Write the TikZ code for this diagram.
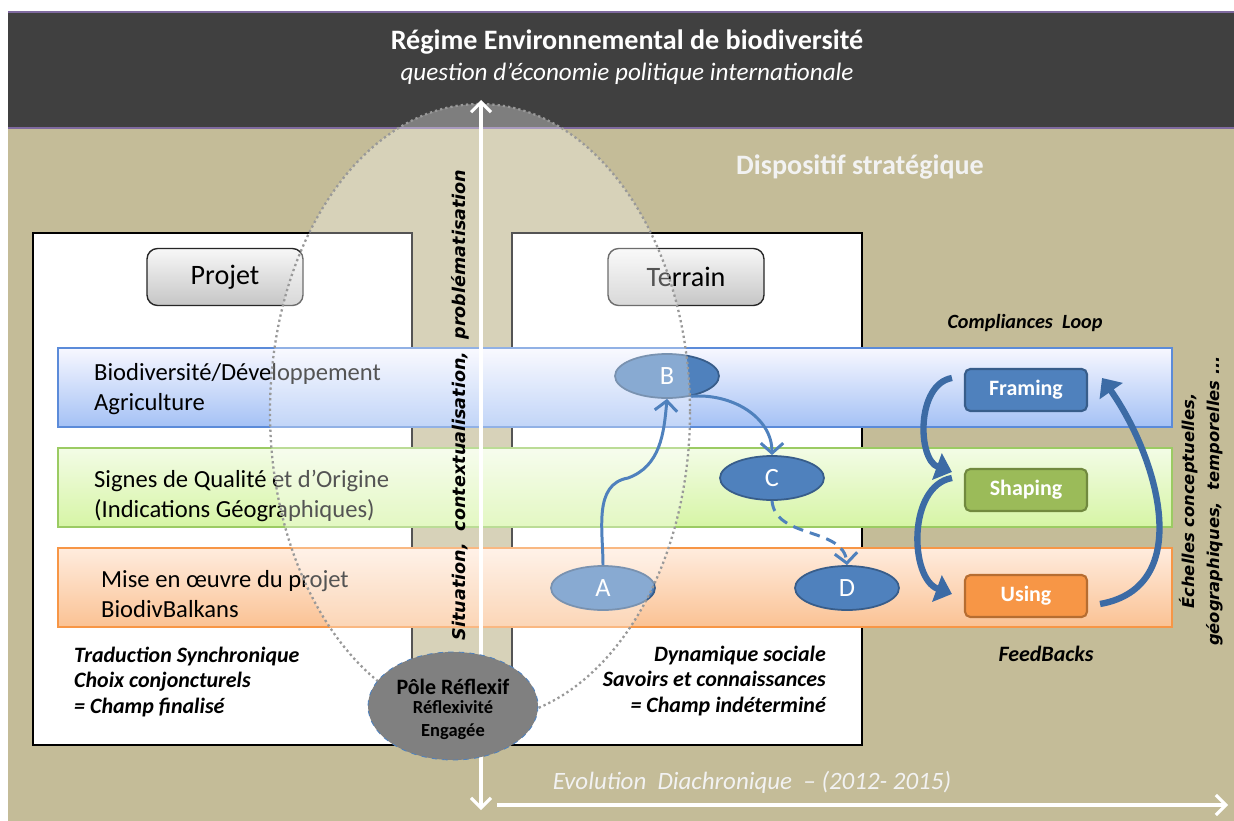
\documentclass[tikz,border=0pt]{standalone}
\usepackage{fontspec}
\setmainfont{Carlito}
\newfontfamily\verdana{DejaVu Sans}
\usetikzlibrary{arrows.meta,positioning,shapes.geometric,calc}
\definecolor{biodark}{HTML}{404040}
\definecolor{biotan}{HTML}{C4BC98}
\definecolor{bioline}{HTML}{7F6A9F}
\definecolor{biolight}{HTML}{F2F2F2}
\definecolor{nodeblue}{HTML}{4F81BD}
\definecolor{nodeblueline}{HTML}{385D8A}
\definecolor{loopblue}{HTML}{3C6BA5}
\definecolor{shapegreen}{HTML}{9BBB59}
\definecolor{shapegreenline}{HTML}{71893F}
\definecolor{usingorange}{HTML}{F79646}
\definecolor{usingline}{HTML}{B66D31}
\definecolor{bandblueline}{HTML}{5B8BD9}
\definecolor{bandgreenline}{HTML}{9BCB63}
\definecolor{bandorangeline}{HTML}{F79646}
\tikzset{
  panel/.style={draw=black, line width=1.2pt, fill=white},
  btn/.style={draw=black!85, line width=0.8pt, rounded corners=6pt, top color=gray!6, bottom color=gray!45, minimum width=3.12cm, minimum height=1.14cm, font=\fontsize{16}{18}\selectfont},
  bandtext/.style={anchor=west, align=left, font=\fontsize{14}{17}\selectfont},
  lettre/.style={ellipse, draw=nodeblueline, line width=1pt, fill=nodeblue, text=white, minimum width=2.08cm, minimum height=0.88cm, inner sep=0pt, font=\fontsize{15}{16}\selectfont},
  loopbox/.style={rounded corners=3pt, line width=1.2pt, text=white, minimum width=2.44cm, minimum height=0.84cm, font=\bfseries\fontsize{12.5}{14}\selectfont},
  arrow/.style={-{Straight Barb[length=2mm,width=4.5mm]}, line width=1.7pt, draw=nodeblue},
  looparrow/.style={-{Triangle[length=3.2mm,width=5.5mm]}, line width=3.6pt, draw=loopblue},
  note/.style={font=\bfseries\itshape\fontsize{12.5}{14.7}\selectfont}
}
\begin{document}
\begin{tikzpicture}[x=0.02cm, y=-0.02cm]
  \useasboundingbox (0,0) rectangle (1234,821);
  % fonds
  \fill[white] (0,0) rectangle (1234,821);
  \fill[biotan] (8,128) rectangle (1234,821);
  \fill[biodark] (8,12) rectangle (1234,128);
  \draw[bioline, line width=0.8pt] (8,12) -- (1234,12);
  \draw[bioline, line width=1pt] (8,128) -- (1234,128);

  \node[text=white, font=\bfseries\fontsize{16}{18}\selectfont] (regime) at (627,42) {Régime Environnemental de biodiversité};
  \node[text=white, font=\itshape\fontsize{14.3}{16}\selectfont] (question) at (627,74) {question d’économie politique internationale};
  \node[text=biolight, font=\bfseries\fontsize{16}{18}\selectfont] (dispositif) at (860,167) {Dispositif stratégique};

  % panneaux
  \draw[panel] (33,233) rectangle (412,745);
  \draw[panel] (512,233) rectangle (862,745);
  \node[btn] (projet) at (225,277) {Projet};
  \node[btn] (terrain) at (686,277) {Terrain};

  % bandes
  \draw[bandblueline, line width=0.8pt, top color=blue!3!white, bottom color={rgb,255:red,164;green,193;blue,245}] (58,348) rectangle (1172,427);
  \draw[bandgreenline, line width=0.8pt, top color={rgb,255:red,243;green,252;blue,230}, bottom color={rgb,255:red,214;green,245;blue,165}] (58,448) rectangle (1172,527);
  \draw[bandorangeline, line width=0.8pt, top color={rgb,255:red,255;green,236;blue,222}, bottom color={rgb,255:red,250;green,194;blue,148}] (58,548) rectangle (1172,627);
  \node[bandtext] (biodev) at (88,389) {Biodiversité/Développement\\Agriculture};
  \node[bandtext] (signes) at (88,496) {Signes de Qualité et d’Origine\\(Indications Géographiques)};
  \node[bandtext] (miseoeuvre) at (95,594) {Mise en œuvre du projet\\BiodivBalkans};

  \node[lettre] (A) at (603,588) {A};
  \node[lettre] (B) at (667,376) {B};
  \node[lettre] (C) at (772,478) {C};
  \node[lettre] (D) at (847,588) {D};

  % ellipse de reflexivite
  \fill[white, fill opacity=0.33] (480,412) ellipse [x radius=210, y radius=308];
  \draw[black!40, line width=1.3pt, dash pattern=on 1.3pt off 1.7pt] (480,412) ellipse [x radius=210, y radius=308];

  \coordinate (kinkAB) at (628,478);
  \draw[arrow] (A.north) to[out=90,in=190] (kinkAB) to[out=20,in=-95] (B.south);
  \draw[arrow] (B.-40) to[out=5,in=90] (C.north);
  \draw[arrow, dashed, dash pattern=on 6pt off 4pt] (C.south) to[out=-85,in=95] (D.north);

  % boucle
  \node[loopbox, draw=nodeblueline, fill=nodeblue] (framing) at (1026,390) {Framing};
  \node[loopbox, draw=shapegreenline, fill=shapegreen] (shaping) at (1026,490) {Shaping};
  \node[loopbox, draw=usingline, fill=usingorange] (using) at (1026,596) {Using};
  \draw[looparrow] ([shift={(-12,-12)}]framing.west) to[out=190,in=160,looseness=1] ([shift={(-12,-18)}]shaping.west);
  \draw[looparrow] ([shift={(-12,-12)}]shaping.west) to[out=190,in=160,looseness=1] ([shift={(-12,-2)}]using.west);
  \draw[looparrow] ([shift={(12,8)}]using.east) to[out=10,in=-55,looseness=1.1] ([shift={(14,-12)}]framing.east);
  \node[note] (compliances) at (1025,323) {\fontsize{11.5}{13}\selectfont Compliances\ \ Loop};
  \node[note] (feedbacks) at (1046,654) {FeedBacks};
  \node[rotate=90, align=center, font=\verdana\bfseries\itshape\fontsize{9.3}{14.5}\selectfont] (echelles) at (1201,501) {Échelles conceptuelles,\\géographiques,\ \ temporelles ...};

  % axes
  \draw[white, line width=1.8pt, {Straight Barb[length=2mm,width=4mm]}-{Straight Barb[length=2mm,width=4mm]}] (481,100) -- (481,810);
  \draw[white, line width=1.8pt, -{Straight Barb[length=2mm,width=4mm]}] (497,805) -- (1228,805);
  \node[text=biolight, font=\itshape\fontsize{14.2}{16}\selectfont] (evolution) at (752,782) {Evolution\ \ Diachronique\ \ –\ (2012-\ 2015)};
  \node[rotate=90, font=\verdana\bfseries\itshape\fontsize{10}{12}\selectfont] (situation) at (460,405) {Situation,\ \ contextualisation,\ \ problématisation};

  % pole reflexif
  \draw[fill=gray, draw=nodeblue, dashed, line width=0.5pt] (453,706) ellipse [x radius=85, y radius=54];
  \node[font=\bfseries\fontsize{12.5}{14}\selectfont] (poletitre) at (453,687) {Pôle Réflexif};
  \node[font=\bfseries\fontsize{10.5}{12}\selectfont, align=center] (polesous) at (453,720) {Réflexivité\\[1.5pt]Engagée};

  \node[note, anchor=west, align=left] (traduction) at (68,682) {Traduction Synchronique\\Choix conjoncturels\\= Champ finalisé};
  \node[note, anchor=east, align=right] (dynamique) at (832,681) {Dynamique sociale\\Savoirs et connaissances\\= Champ indéterminé};
\end{tikzpicture}
\end{document}
